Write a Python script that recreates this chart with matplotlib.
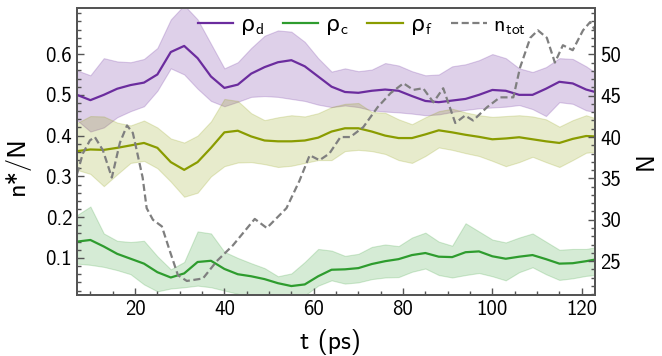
import matplotlib
matplotlib.use("Agg")
import matplotlib.pyplot as plt
from matplotlib.ticker import MultipleLocator

plt.rcParams["font.family"] = ["cmss10", "DejaVu Sans"]
plt.rcParams["mathtext.fontset"] = "custom"
plt.rcParams["mathtext.rm"] = "cmss10"
plt.rcParams["mathtext.it"] = "cmss10"
plt.rcParams["mathtext.sf"] = "cmss10"
plt.rcParams["mathtext.cal"] = "DejaVu Sans"
plt.rcParams["axes.unicode_minus"] = False

# time grid (ps) for the density curves
t = [7, 10, 13, 16, 19, 22, 25, 28, 31, 34, 37, 40, 43, 46, 49, 52, 55, 58, 61, 64,
     67, 70, 73, 76, 79, 82, 85, 88, 91, 94, 97, 100, 103, 106, 109, 112, 115, 118, 121, 123]

rho_d = [0.500, 0.487, 0.500, 0.515, 0.524, 0.530, 0.550, 0.605, 0.620, 0.590,
         0.545, 0.517, 0.525, 0.552, 0.568, 0.580, 0.585, 0.570, 0.545, 0.520,
         0.507, 0.505, 0.510, 0.513, 0.510, 0.497, 0.485, 0.482, 0.486, 0.490,
         0.500, 0.512, 0.510, 0.500, 0.500, 0.515, 0.532, 0.528, 0.513, 0.507]
rho_d_hi = [0.560, 0.548, 0.590, 0.582, 0.580, 0.588, 0.615, 0.685, 0.720, 0.685,
            0.625, 0.565, 0.580, 0.615, 0.645, 0.658, 0.655, 0.630, 0.590, 0.557,
            0.565, 0.558, 0.562, 0.578, 0.572, 0.558, 0.548, 0.550, 0.570, 0.575,
            0.585, 0.600, 0.590, 0.565, 0.556, 0.568, 0.590, 0.588, 0.570, 0.555]
rho_d_lo = [0.438, 0.410, 0.420, 0.445, 0.460, 0.472, 0.510, 0.565, 0.550, 0.515,
            0.485, 0.472, 0.483, 0.495, 0.497, 0.495, 0.490, 0.485, 0.476, 0.470,
            0.474, 0.470, 0.462, 0.459, 0.457, 0.454, 0.450, 0.452, 0.458, 0.463,
            0.467, 0.469, 0.471, 0.475, 0.465, 0.448, 0.482, 0.478, 0.462, 0.458]

rho_c = [0.140, 0.144, 0.128, 0.110, 0.098, 0.086, 0.065, 0.052, 0.062, 0.090,
         0.093, 0.073, 0.060, 0.055, 0.048, 0.038, 0.031, 0.035, 0.055, 0.071,
         0.072, 0.075, 0.085, 0.092, 0.097, 0.107, 0.112, 0.103, 0.102, 0.114,
         0.116, 0.104, 0.098, 0.103, 0.107, 0.097, 0.086, 0.087, 0.092, 0.096]
rho_c_hi = [0.205, 0.226, 0.160, 0.142, 0.139, 0.142, 0.104, 0.072, 0.090, 0.165,
            0.160, 0.115, 0.100, 0.087, 0.075, 0.055, 0.062, 0.090, 0.122, 0.118,
            0.105, 0.110, 0.127, 0.133, 0.129, 0.150, 0.162, 0.140, 0.130, 0.185,
            0.165, 0.145, 0.138, 0.150, 0.160, 0.140, 0.120, 0.122, 0.122, 0.126]
rho_c_lo = [0.086, 0.083, 0.078, 0.070, 0.060, 0.035, 0.018, 0.025, 0.028, 0.032,
            0.028, 0.020, 0.012, 0.005, 0.000, -0.005, -0.005, 0.008, 0.032, 0.045,
            0.037, 0.040, 0.048, 0.052, 0.053, 0.066, 0.074, 0.058, 0.052, 0.058,
            0.063, 0.055, 0.045, 0.065, 0.077, 0.060, 0.046, 0.050, 0.056, 0.058]

rho_f = [0.362, 0.366, 0.365, 0.370, 0.376, 0.382, 0.370, 0.335, 0.316, 0.335,
         0.370, 0.408, 0.412, 0.398, 0.388, 0.386, 0.386, 0.388, 0.395, 0.410,
         0.418, 0.418, 0.410, 0.400, 0.394, 0.394, 0.403, 0.413, 0.408, 0.402,
         0.397, 0.391, 0.393, 0.396, 0.391, 0.386, 0.382, 0.392, 0.399, 0.398]
rho_f_hi = [0.431, 0.448, 0.447, 0.432, 0.425, 0.437, 0.420, 0.393, 0.383, 0.400,
            0.435, 0.490, 0.485, 0.455, 0.438, 0.445, 0.450, 0.447, 0.455, 0.470,
            0.478, 0.480, 0.458, 0.456, 0.440, 0.428, 0.445, 0.460, 0.466, 0.457,
            0.450, 0.446, 0.448, 0.450, 0.447, 0.440, 0.422, 0.438, 0.450, 0.443]
rho_f_lo = [0.316, 0.306, 0.276, 0.305, 0.333, 0.338, 0.320, 0.287, 0.250, 0.260,
            0.300, 0.325, 0.334, 0.335, 0.330, 0.323, 0.326, 0.333, 0.340, 0.340,
            0.362, 0.365, 0.362, 0.355, 0.340, 0.333, 0.350, 0.371, 0.365, 0.357,
            0.350, 0.338, 0.325, 0.335, 0.348, 0.335, 0.323, 0.340, 0.358, 0.360]

# total number of particles
t_tot = [7, 8.3, 9.9, 11, 12.8, 14.8, 16.6, 18.2, 19.5, 20, 21.7, 22.6, 24, 26, 27.8,
         29.6, 31.6, 35.2, 38.3, 41.9, 46.8, 49.5, 51.7, 53.9, 56.8, 59.1, 61.3, 63.5,
         66, 68.2, 71.1, 74.3, 77.2, 80.1, 82.3, 84.5, 86.8, 89, 91.7, 93.9, 95.7, 98.8,
         101.7, 104.7, 106.2, 108.5, 110.2, 112.2, 114, 115.8, 118, 120.3, 121.9, 123]
n_tot = [35.5, 38, 39.6, 40, 38.4, 35.1, 39.3, 41.4, 40.5, 39.3, 35.1, 31.4, 30, 29.2, 26.2,
         23.3, 22.6, 22.9, 25, 26.9, 30.1, 29, 30.2, 31.4, 34.7, 37.8, 37.2, 38,
         40, 40, 41.2, 43.6, 45.3, 46.5, 45.7, 45.9, 44.2, 45.9, 41.7, 42.6, 42, 43.6,
         44.8, 44.8, 48.4, 52, 52.9, 52, 49, 51.1, 50.5, 52.9, 53.9, 52.9]

x_ticks = [20, 40, 60, 80, 100, 120]
y_ticks = [0.1, 0.2, 0.3, 0.4, 0.5, 0.6]
n_ticks = [25, 30, 35, 40, 45, 50]

c_d = "#6b2c9e"
c_c = "#2e9c2e"
c_f = "#8a9c00"
c_n = "#7f7f7f"
spine = "#555555"

fig = plt.figure(figsize=(6.62, 3.56), dpi=100)
ax = fig.add_axes([0.1163, 0.1713, 0.7826, 0.8062])
ax2 = ax.twinx()

ax.fill_between(t, rho_d_lo, rho_d_hi, color=c_d, alpha=0.22, lw=0.8)
ax.fill_between(t, rho_f_lo, rho_f_hi, color=c_f, alpha=0.2, lw=0.8)
ax.fill_between(t, rho_c_lo, rho_c_hi, color=c_c, alpha=0.2, lw=0.8)
l1, = ax.plot(t, rho_d, color=c_d, lw=1.6, label=r"$\mathcal{ρ}_\mathrm{d}$")
l2, = ax.plot(t, rho_c, color=c_c, lw=1.6, label=r"$\mathcal{ρ}_\mathrm{c}$")
l3, = ax.plot(t, rho_f, color=c_f, lw=1.6, label=r"$\mathcal{ρ}_\mathrm{f}$")
l4, = ax2.plot(t_tot, n_tot, color=c_n, lw=1.6, ls=(0, (3.2, 1.6)), label=r"n$_\mathrm{tot}$")

ax.set_xlim(7, 123)
ax.set_ylim(0.009, 0.713)
ax2.set_ylim(20.9, 55.6)

ax.set_xticks(x_ticks)
ax.set_yticks(y_ticks)
ax2.set_yticks(n_ticks)
ax.xaxis.set_minor_locator(MultipleLocator(5))
ax.yaxis.set_minor_locator(MultipleLocator(0.02))
ax2.yaxis.set_minor_locator(MultipleLocator(1))

for a in (ax, ax2):
    for s in a.spines.values():
        s.set_color(spine)
        s.set_linewidth(1.4)
    a.tick_params(which="both", direction="in", color=spine, labelsize=15, width=1.0)
    a.tick_params(which="major", length=5)
    a.tick_params(which="minor", length=3)
ax.tick_params(axis="y", right=False)
ax.tick_params(axis="x", top=False)

ax.set_xlabel("t (ps)", fontsize=18.5)
ax.set_ylabel("n*/N", fontsize=19)
ax2.set_ylabel("N", fontsize=18, rotation=90)
ax.xaxis.set_label_coords(0.49, -0.12)
ax.yaxis.set_label_coords(-0.09, 0.45)
ax2.yaxis.set_label_coords(1.076, 0.465)

ax.legend(handles=[l1, l2, l3, l4], loc="upper center", bbox_to_anchor=(0.55, 1.045),
          ncol=4, frameon=False, fontsize=16, handlelength=1.6, handletextpad=0.3,
          columnspacing=0.85)

fig.savefig("out.png", dpi=100)
